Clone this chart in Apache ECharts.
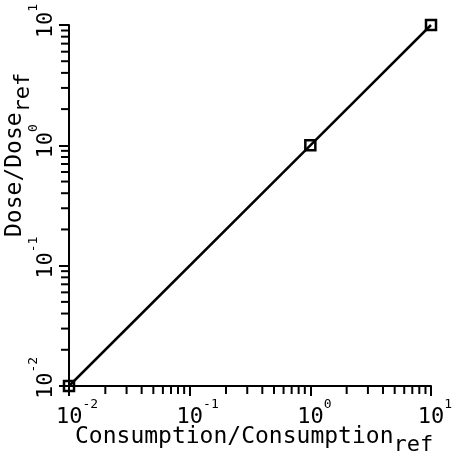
<!DOCTYPE html>
<html>
<head>
<meta charset="utf-8">
<script src="https://cdn.jsdelivr.net/npm/echarts@6/dist/echarts.min.js"></script>
<style>html,body{margin:0;padding:0;background:#fff}#c{width:457px;height:464px}</style>
</head>
<body>
<div id="c"></div>
<script>
// Data
const consumption = [0.01, 1, 10];
const dose = [0.01, 1, 10];
const axisMin = 0.01, axisMax = 10;
const minorTicks = [0.02,0.03,0.04,0.05,0.06,0.07,0.08,0.09,
                    0.2,0.3,0.4,0.5,0.6,0.7,0.8,0.9,
                    2,3,4,5,6,7,8,9];
const xTitle = 'Consumption/Consumption', xTitleSub = 'ref';
const yTitle = 'Dose/Dose', yTitleSub = 'ref';

const FONT = '"DejaVu Sans Mono", monospace';
const chart = echarts.init(document.getElementById('c'), null, {renderer: 'canvas'});

function expLabel(v) {
  const e = Math.round(Math.log10(v));
  const s = String(e);
  return '{p' + s.length + '|}{a|10}{s|' + s + '}';
}
const labelRich = {
  a: {fontFamily: FONT, fontSize: 22, lineHeight: 30, color: '#000', verticalAlign: 'bottom'},
  s: {fontFamily: FONT, fontSize: 13, lineHeight: 12, color: '#000', verticalAlign: 'top'},
  p1: {width: 8, fontSize: 13, fontFamily: FONT},
  p2: {width: 16, fontSize: 13, fontFamily: FONT}
};

const axisCommon = {
  type: 'log', logBase: 10, min: axisMin, max: axisMax,
  splitLine: {show: false},
  axisLine: {show: true, lineStyle: {color: '#000', width: 2}},
  axisTick: {show: true, inside: false, length: 10, lineStyle: {color: '#000', width: 2}},
  minorTick: {show: false}
};

const xTickData = minorTicks.map(v => [v, axisMin]);
const yTickData = minorTicks.map(v => [axisMin, v]);

const titleRich = {
  m: {fontFamily: FONT, fontSize: 23, lineHeight: 30, fill: '#000', verticalAlign: 'top'},
  s: {fontFamily: FONT, fontSize: 22, lineHeight: 30, fill: '#000', verticalAlign: 'bottom', padding: [8,0,0,0]}
};

chart.setOption({
  animation: false,
  backgroundColor: '#fff',
  grid: {left: 69, right: 26, top: 25, bottom: 78, containLabel: false},
  xAxis: Object.assign({}, axisCommon, {
    axisLabel: {formatter: expLabel, rich: labelRich, margin: 12, color: '#000'}
  }),
  yAxis: Object.assign({}, axisCommon, {
    axisLabel: {formatter: expLabel, rich: labelRich, margin: 12, rotate: 90, color: '#000'}
  }),
  graphic: [
    {type: 'text', x: 75, y: 441, style: {
      text: '{m|' + xTitle + '}{s|' + xTitleSub + '}', align: 'left', verticalAlign: 'middle', rich: titleRich
    }},
    {type: 'text', x: 19, y: 237, rotation: Math.PI / 2, style: {
      text: '{m|' + yTitle + '}{s|' + yTitleSub + '}', align: 'left', verticalAlign: 'middle', rich: titleRich
    }}
  ],
  series: [
    {
      type: 'line',
      data: consumption.map((c, i) => [c, dose[i]]),
      symbol: 'rect', symbolSize: 10, showAllSymbol: true,
      lineStyle: {color: '#000', width: 2.5},
      itemStyle: {color: 'rgba(255,255,255,0)', borderColor: '#000', borderWidth: 2.5},
      clip: false, z: 5
    },
    {
      type: 'custom', data: xTickData, clip: false, silent: true,
      renderItem: function (params, api) {
        const p = api.coord([api.value(0), api.value(1)]);
        return {type: 'line', shape: {x1: p[0], y1: p[1], x2: p[0], y2: p[1] + 8},
                style: {stroke: '#000', lineWidth: 2}};
      }
    },
    {
      type: 'custom', data: yTickData, clip: false, silent: true,
      renderItem: function (params, api) {
        const p = api.coord([api.value(0), api.value(1)]);
        return {type: 'line', shape: {x1: p[0], y1: p[1], x2: p[0] - 8, y2: p[1]},
                style: {stroke: '#000', lineWidth: 2}};
      }
    }
  ]
});
</script>
</body>
</html>
